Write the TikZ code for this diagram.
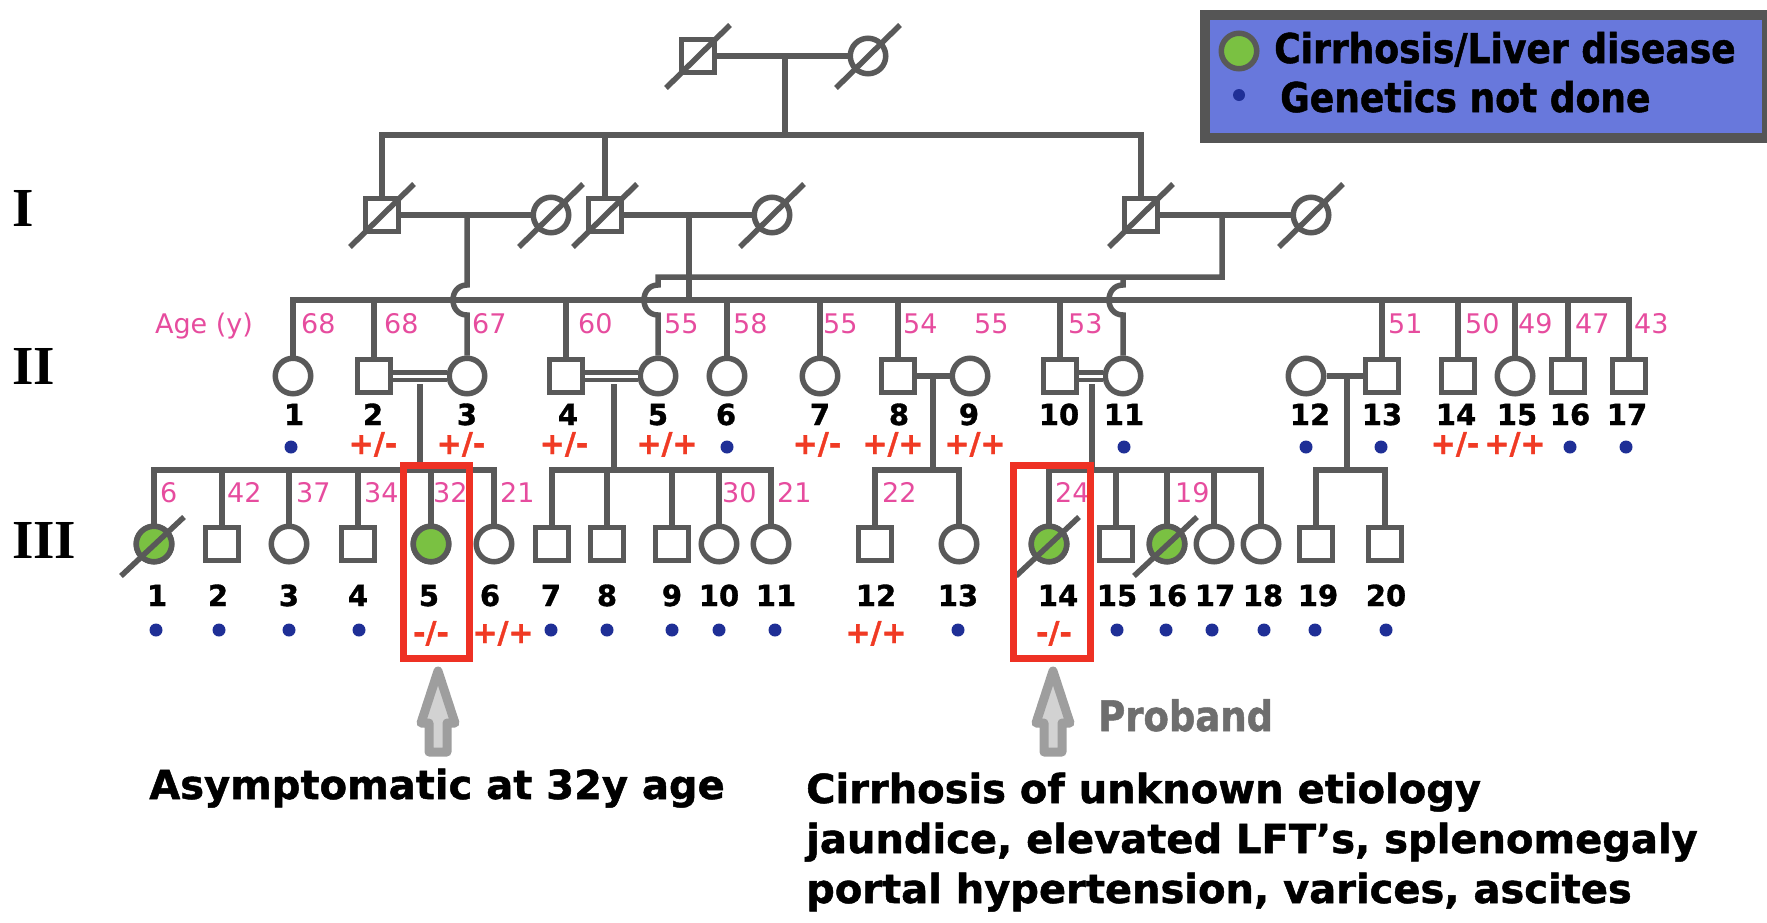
\documentclass[tikz,border=0pt]{standalone}
\usepackage{fontspec}
\setmainfont{DejaVu Sans}
\newfontfamily\heavyf{DejaVu Sans}[BoldFeatures={FakeBold=1.2}]
\newfontfamily\condf{DejaVu Sans}[FakeStretch=0.88, BoldFeatures={FakeBold=1.2}]
\newfontfamily\genf{Liberation Serif}
\usetikzlibrary{calc}
\definecolor{lc}{HTML}{595959}
\definecolor{pinkc}{HTML}{E64C9E}
\definecolor{redc}{HTML}{F03A24}
\definecolor{dotc}{HTML}{1F2F96}
\definecolor{grn}{HTML}{7AC142}
\definecolor{boxred}{HTML}{EE3124}
\definecolor{legf}{HTML}{6878DC}
\definecolor{legb}{HTML}{555555}
\definecolor{arrg}{HTML}{9E9E9E}
\definecolor{arrl}{HTML}{D2D2D2}
\definecolor{probg}{HTML}{6E6E6E}
\begin{document}
\begin{tikzpicture}[x=1pt,y=-1pt,
  ln/.style={draw=lc, line width=5.5pt},
  dbl/.style={draw=lc, line width=4.5pt, double=white, double distance=3pt},
  male/.style={rectangle, draw=lc, line width=5.5pt, fill=white, minimum size=33pt, inner sep=0pt},
  fem/.style={circle, draw=lc, line width=5.5pt, fill=white, minimum size=35.5pt, inner sep=0pt},
  aff/.style={fill=grn},
  dead/.style={draw=lc, line width=5.5pt},
  idl/.style={font=\heavyf\bfseries\fontsize{29}{30}\selectfont, text=black, anchor=base, inner sep=0pt},
  agel/.style={font=\fontsize{27}{30}\selectfont, text=pinkc, anchor=base west, inner sep=0pt},
  gtl/.style={font=\heavyf\bfseries\fontsize{30}{32}\selectfont, text=redc, anchor=base, inner sep=0pt},
  nd/.style={circle, fill=dotc, minimum size=13pt, inner sep=0pt},
  rbox/.style={rectangle, draw=boxred, line width=7pt, inner sep=0pt},
  bt/.style={font=\heavyf\bfseries\fontsize{40}{44}\selectfont, text=black, inner sep=0pt},
  legt/.style={font=\condf\bfseries\fontsize{41}{44}\selectfont, text=black, inner sep=0pt, anchor=base west},
  prob/.style={font=\condf\bfseries\fontsize{42}{44}\selectfont, text=probg, inner sep=0pt, anchor=base west},
  genl/.style={font=\genf\bfseries\fontsize{55}{56}\selectfont, text=black, inner sep=0pt, anchor=base west},
  parr/.style={draw=arrg, fill=arrl, line width=9pt, line join=round}
]
\useasboundingbox (0,0) rectangle (1767,922);
\clip (0,0) rectangle (1767,922);

% ---------- legend ----------
\node[draw=legb, line width=10pt, fill=legf, minimum width=562pt, minimum height=123pt, inner sep=0pt, anchor=north west] (legend) at (1200,10) {};
\node[fem, fill=grn] (legsym) at (1239,51) {};
\node[nd, minimum size=12pt] (legdot) at (1239,95) {};
\node[legt] (legt1) at (1274,63) {Cirrhosis/Liver disease};
\node[legt] (legt2) at (1280,112) {Genetics not done};

% ---------- generation labels ----------
\node[genl] (gI) at (12,226) {I};
\node[genl] (gII) at (12,384) {II};
\node[genl] (gIII) at (12,558) {III};

% ---------- generation 0 ----------
\node[male] (g0m) at (698,56) {};
\node[fem] (g0f) at (868,56) {};
\draw[ln] (g0m) -- (g0f);
\coordinate (d0) at (785,56);
\coordinate (s0) at (785,135);
\draw[ln] (d0) -- (s0);

% ---------- generation I ----------
\node[male] (Ia) at (382,215) {};
\node[fem]  (Ib) at (551,215) {};
\node[male] (Ic) at (605,215) {};
\node[fem]  (Id) at (772,215) {};
\node[male] (Ie) at (1141,215) {};
\node[fem]  (If) at (1311,215) {};
\draw[ln] (Ia.north) |- (Ie.north |- s0) -- (Ie.north);
\draw[ln] (Ic.north) -- (Ic.north |- s0);
\draw[ln] (Ia) -- (Ib);
\draw[ln] (Ic) -- (Id);
\draw[ln] (Ie) -- (If);

% ---------- generation II ----------
\foreach \n/\x/\s in {1/293/fem, 2/374/male, 3/467/fem, 4/566/male, 5/658/fem, 6/727/fem,
  7/820/fem, 8/898/male, 9/970/fem, 10/1060/male, 11/1123/fem, 12/1306/fem, 13/1382/male,
  14/1458/male, 15/1515/fem, 16/1568/male, 17/1629/male}
  \node[\s] (II\n) at (\x,376) {};

\coordinate (mainL) at (293,300);
\coordinate (s277) at (1222,277);
\coordinate (dA) at (467,215);
\coordinate (dB) at (689,215);
\coordinate (dC) at (1222,215);
\coordinate (h5) at (658,277);
\coordinate (h11) at (1123,277);

% descents of generation I
\draw[ln] (dA) -- ++(0,70) to[out=180,in=180,looseness=1.6] ++(0,30) -- (II3.north);
\draw[ln] (dB) -- (dB |- mainL);
\draw[ln] (dC) -- (s277) -- (h5) -- ++(0,8) to[out=180,in=180,looseness=1.6] ++(0,30) -- (II5.north);
\draw[ln] (h11) -- ++(0,8) to[out=180,in=180,looseness=1.6] ++(0,30) -- (II11.north);

% main sibship of generation II
\draw[ln] (II1.north) |- (II17.north |- mainL) -- (II17.north);
\foreach \n in {2,4,6,7,8,10,13,14,15,16}
  \draw[ln] (II\n.north) -- (II\n.north |- mainL);

% unions of generation II
\draw[dbl] (II2) -- (II3);
\draw[dbl] (II4) -- (II5);
\draw[dbl] (II10) -- (II11);
\draw[ln] (II8) -- (II9);
\draw[ln] (II12) -- (II13);

% ---------- generation III ----------
\foreach \n/\x/\s in {1/154/fem, 2/222/male, 3/289/fem, 4/358/male, 5/431/fem, 6/494/fem,
  7/552/male, 8/607/male, 9/672/male, 10/719/fem, 11/771/fem, 12/875/male, 13/959/fem,
  14/1049/fem, 15/1116/male, 16/1167/fem, 17/1214/fem, 18/1261/fem, 19/1316/male, 20/1385/male}
  \node[\s] (III\n) at (\x,544) {};
\foreach \n in {1,5,14,16}
  \node[fem, aff] at (III\n) {};

\coordinate (c1) at (420,384);
\coordinate (c2) at (614,384);
\coordinate (c3) at (933,376);
\coordinate (c4) at (1092,384);
\coordinate (c5) at (1347,376);
\coordinate (sIII) at (0,470);

\draw[ln] (c1) -- (c1 |- sIII);
\draw[ln] (c2) -- (c2 |- sIII);
\draw[ln] (c3) -- (c3 |- sIII);
\draw[ln] (c4) -- (c4 |- sIII);
\draw[ln] (c5) -- (c5 |- sIII);

\draw[ln] (III1.north) |- (III6.north |- sIII) -- (III6.north);
\foreach \n in {2,3,4,5} \draw[ln] (III\n.north) -- (III\n.north |- sIII);
\draw[ln] (III7.north) |- (III11.north |- sIII) -- (III11.north);
\foreach \n in {8,9,10} \draw[ln] (III\n.north) -- (III\n.north |- sIII);
\draw[ln] (III12.north) |- (III13.north |- sIII) -- (III13.north);
\draw[ln] (III14.north) |- (III18.north |- sIII) -- (III18.north);
\foreach \n in {15,16,17} \draw[ln] (III\n.north) -- (III\n.north |- sIII);
\draw[ln] (III19.north) |- (III20.north |- sIII) -- (III20.north);

% ---------- deceased slashes ----------
\foreach \p in {g0m,g0f,Ia,Ib,Ic,Id,Ie,If}
  \draw[dead] ($(\p)+(-32,32)$) -- ($(\p)+(32,-31)$);
\foreach \p in {III1,III14,III16}
  \draw[dead] ($(\p)+(-33,32)$) -- ($(\p)+(30,-27)$);

% ---------- IDs ----------
\foreach \n/\x in {1/294, 2/373, 3/467, 4/568, 5/658, 6/726, 7/820, 8/899, 9/969, 10/1059,
  11/1124, 12/1310, 13/1382, 14/1456, 15/1517, 16/1570, 17/1627}
  \node[idl] (IIid\n) at (\x,425) {\n};
\foreach \n/\x in {1/157, 2/218, 3/289, 4/358, 5/429, 6/490, 7/551, 8/607, 9/672, 10/719,
  11/776, 12/876, 13/958, 14/1058, 15/1117, 16/1167, 17/1215, 18/1263, 19/1318, 20/1386}
  \node[idl] (IIIid\n) at (\x,606) {\n};

% ---------- ages ----------
\node[agel, anchor=base] (agehdr) at (204,333) {Age (y)};
\foreach \k/\x/\a in {1/301/68, 2/384/68, 3/472/67, 4/578/60, 5/664/55, 6/733/58, 7/823/55,
  8/903/54, 9/974/55, 10/1068/53, 13/1388/51, 14/1465/50, 15/1518/49, 16/1575/47, 17/1634/43}
  \node[agel] (IIage\k) at (\x,333) {\a};
\foreach \k/\x/\a in {1/160/6, 2/227/42, 3/296/37, 4/364/34, 5/433/32, 6/500/21, 10/722/30,
  11/777/21, 12/882/22, 14/1055/24, 16/1175/19}
  \node[agel] (IIIage\k) at (\x,502) {\a};

% ---------- genetics not done ----------
\foreach \k/\x in {1/291, 6/727, 11/1124, 12/1306, 13/1381, 16/1570, 17/1626}
  \node[nd] (IIdot\k) at (\x,447) {};
\foreach \k/\x in {1/156, 2/219, 3/289, 4/359, 7/551, 8/607, 9/672, 10/719, 11/775, 13/958,
  15/1117, 16/1166, 17/1212, 18/1264, 19/1315, 20/1386}
  \node[nd] (IIIdot\k) at (\x,630) {};

% ---------- genotypes ----------
\node[gtl] (IIgt2) at (373,454) {+/-};
\node[gtl] (IIgt3) at (461,454) {+/-};
\node[gtl] (IIgt4) at (564,454) {+/-};
\node[gtl] (IIgt5) at (667,454) {+/+};
\node[gtl] (IIgt7) at (817,454) {+/-};
\node[gtl] (IIgt8) at (893,454) {+/+};
\node[gtl] (IIgt9) at (975,454) {+/+};
\node[gtl] (IIgt14) at (1455,454) {+/-};
\node[gtl] (IIgt15) at (1515,454) {+/+};
\node[gtl] (IIIgt5) at (431,643) {-/-};
\node[gtl] (IIIgt6) at (503,643) {+/+};
\node[gtl] (IIIgt12) at (876,643) {+/+};
\node[gtl] (IIIgt14) at (1054,643) {-/-};

% ---------- highlight boxes ----------
\node[rbox, minimum width=66pt, minimum height=193pt] (box5) at (436.5,562) {};
\node[rbox, minimum width=77pt, minimum height=193pt] (box14) at (1052,562) {};

% ---------- arrows ----------
\coordinate (a1) at ($(box5.south)+(1.5,9)$);
\coordinate (a2) at ($(box14.south)+(1,9)$);
\draw[parr] (a1) -- ++(17,52) -- ++(-8,0) -- ++(0,29) -- ++(-18,0) -- ++(0,-29) -- ++(-8,0) -- cycle;
\draw[parr] (a2) -- ++(17,52) -- ++(-8,0) -- ++(0,29) -- ++(-18,0) -- ++(0,-29) -- ++(-8,0) -- cycle;

% ---------- annotations ----------
\node[prob] (proband) at (1098,731) {Proband};
\node[bt, anchor=base] (asym) at (437,799) {Asymptomatic at 32y age};
\node[bt, anchor=base west] (cir1) at (806,803) {Cirrhosis of unknown etiology};
\node[bt, anchor=base west] (cir2) at (806,853) {jaundice, elevated LFT’s, splenomegaly};
\node[bt, anchor=base west] (cir3) at (806,903) {portal hypertension, varices, ascites};
\end{tikzpicture}
\end{document}
